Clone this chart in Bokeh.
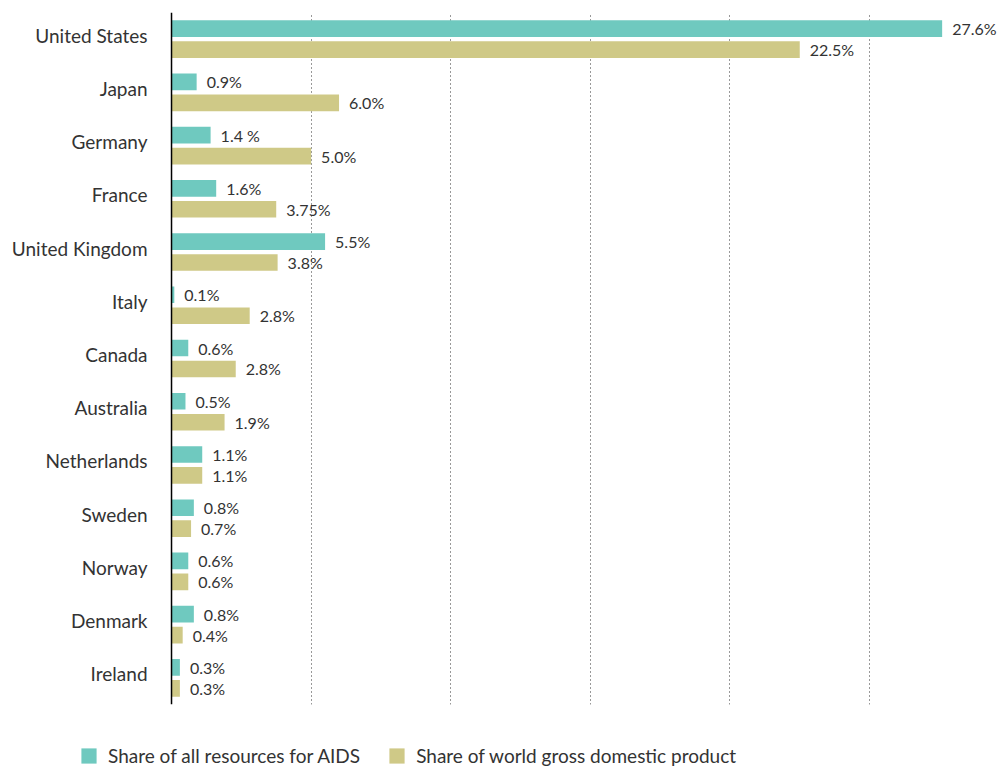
from bokeh.plotting import figure
from bokeh.layouts import column
from bokeh.models import ColumnDataSource, FactorRange, Range1d, FixedTicker, Legend, LegendItem, Span
from bokeh.transform import dodge
from bokeh.core.properties import value
from bokeh.embed import file_html
from bokeh.resources import INLINE

countries = ["United States", "Japan", "Germany", "France", "United Kingdom", "Italy",
             "Canada", "Australia", "Netherlands", "Sweden", "Norway", "Denmark", "Ireland"]
aids_share = [27.6, 0.9, 1.4, 1.6, 5.5, 0.1, 0.6, 0.5, 1.1, 0.8, 0.6, 0.8, 0.3]
gdp_share = [22.5, 6.0, 5.0, 3.75, 3.8, 2.8, 2.3, 1.9, 1.1, 0.7, 0.6, 0.4, 0.3]
aids_labels = ["27.6%", "0.9%", "1.4 %", "1.6%", "5.5%", "0.1%", "0.6%", "0.5%", "1.1%",
               "0.8%", "0.6%", "0.8%", "0.3%"]
gdp_labels = ["22.5%", "6.0%", "5.0%", "3.75%", "3.8%", "2.8%", "2.8%", "1.9%", "1.1%",
              "0.7%", "0.6%", "0.4%", "0.3%"]
grid_ticks = [5, 10, 15, 20, 25]
series_names = ["Share of all resources for AIDS", "Share of world gross domestic product"]

AIDS_COLOR = "#6fc9bf"
GDP_COLOR = "#cfc987"
TEXT = "#333333"
FONT = "Lato"

src = ColumnDataSource(dict(country=countries, aids=aids_share, gdp=gdp_share,
                            aids_lbl=aids_labels, gdp_lbl=gdp_labels,
                            zero=[0] * len(countries)))

p = figure(width=1000, height=712, output_backend="svg", toolbar_location=None,
           y_range=FactorRange(*reversed(countries)), x_range=Range1d(-6.125, 29.69),
           min_border_left=0, min_border_right=0, min_border_top=12, min_border_bottom=8)
p.outline_line_color = None
p.background_fill_color = "white"
p.border_fill_color = "white"

off = 0.197
h = 0.313
r1 = p.hbar(y=dodge("country", off, range=p.y_range), left=0, right="aids", height=h,
            source=src, fill_color=AIDS_COLOR, line_color=None)
r2 = p.hbar(y=dodge("country", -off, range=p.y_range), left=0, right="gdp", height=h,
            source=src, fill_color=GDP_COLOR, line_color=None)

p.text(x="aids", y=dodge("country", off, range=p.y_range), text="aids_lbl", source=src,
       x_offset=10, text_baseline="middle", text_font=value(FONT), text_font_size="16px",
       text_color=TEXT)
p.text(x="gdp", y=dodge("country", -off, range=p.y_range), text="gdp_lbl", source=src,
       x_offset=10, text_baseline="middle", text_font=value(FONT), text_font_size="16px",
       text_color=TEXT)

# category labels to the left of the zero line
p.text(x="zero", y="country", text="country", source=src, x_offset=-24, y_offset=-4,
       text_align="right", text_baseline="middle", text_font=value(FONT),
       text_font_size="19px", text_color=TEXT)

p.xaxis.visible = False
p.yaxis.visible = False
p.xgrid.ticker = FixedTicker(ticks=grid_ticks)
p.xgrid.grid_line_color = "#333333"
p.xgrid.grid_line_dash = "1 3"
p.xgrid.grid_line_width = 1
p.ygrid.grid_line_color = None

p.add_layout(Span(location=0, dimension="height", line_color="black", line_width=1.5))

# legend strip below the chart
lg = figure(width=1000, height=55, output_backend="svg", toolbar_location=None,
            x_range=Range1d(0, 1), y_range=Range1d(0, 1),
            min_border_left=0, min_border_right=0, min_border_top=0, min_border_bottom=0)
lg.axis.visible = False
lg.grid.visible = False
lg.outline_line_color = None
lg.background_fill_color = "white"
lg.border_fill_color = "white"
offscreen = ColumnDataSource(dict(y=[0.5], left=[50], right=[60]))
l1 = lg.hbar(y="y", right="right", left="left", height=0.1, source=offscreen,
             fill_color=AIDS_COLOR, line_color=None)
l2 = lg.hbar(y="y", right="right", left="left", height=0.1, source=offscreen,
             fill_color=GDP_COLOR, line_color=None)

legend = Legend(items=[LegendItem(label=series_names[0], renderers=[l1]),
                       LegendItem(label=series_names[1], renderers=[l2])],
                location=(79, 0), orientation="horizontal")
legend.border_line_color = None
legend.background_fill_alpha = 0
legend.padding = 0
legend.margin = 0
legend.spacing = 27
legend.glyph_width = 19
legend.glyph_height = 19
legend.label_standoff = 10
legend.label_text_font = FONT
legend.label_text_font_size = "19px"
legend.label_text_color = TEXT
lg.add_layout(legend)

layout = column(p, lg, spacing=0)
open("out.html", "w").write(file_html(layout, INLINE))
